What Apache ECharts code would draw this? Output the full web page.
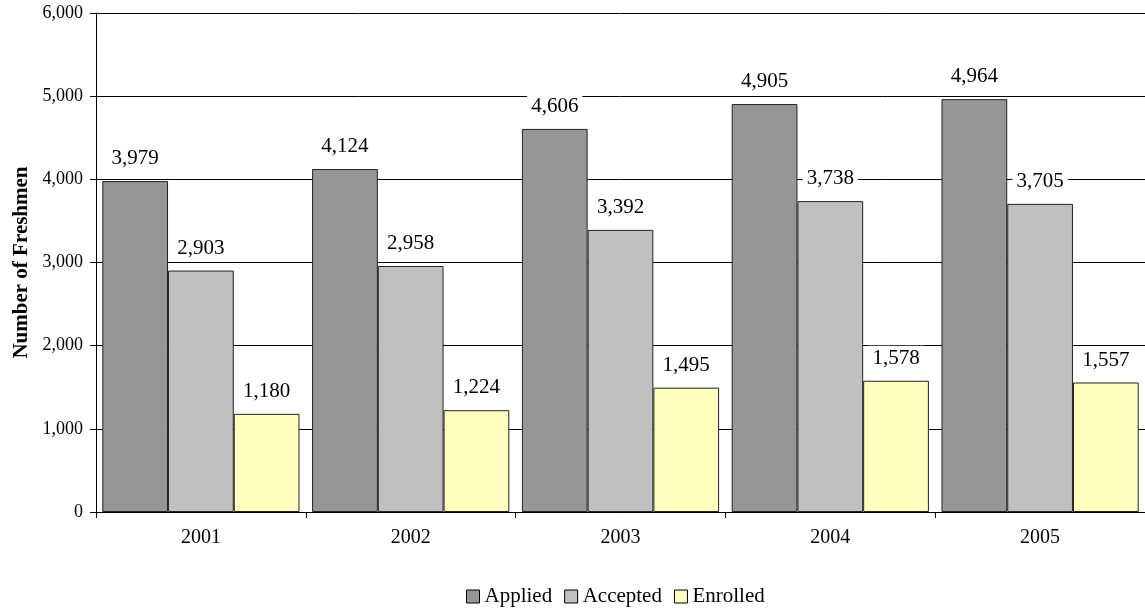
<!DOCTYPE html>
<html><head><meta charset="utf-8">
<script src="https://cdn.jsdelivr.net/npm/echarts@6/dist/echarts.min.js"></script>
<style>html,body{margin:0;padding:0;background:#fff}#c{width:1145px;height:610px}</style>
</head><body><div id="c"></div>
<script>
const years = ['2001','2002','2003','2004','2005'];
const applied = [3979, 4124, 4606, 4905, 4964];
const accepted = [2903, 2958, 3392, 3738, 3705];
const enrolled = [1180, 1224, 1495, 1578, 1557];
const seriesNames = ['Applied','Accepted','Enrolled'];
const colors = ['#969696','#c0c0c0','#ffffc0'];
const font = '"Liberation Serif", "Times New Roman", serif';
const fmt = v => v.toLocaleString('en-US');
const mk = (name, data, color) => ({
  name, type: 'bar', data, barGap: '0%', barCategoryGap: '6%',
  itemStyle: {color, borderColor: '#222', borderWidth: 1},
  label: {show: true, position: 'top', distance: 10, fontFamily: font, fontSize: 21, color: '#000',
    backgroundColor: '#fff', padding: [2, 4],
    formatter: p => fmt(p.value)}
});
const chart = echarts.init(document.getElementById('c'));
chart.setOption({
  animation: false,
  textStyle: {fontFamily: font},
  grid: {left: 96, right: 0, top: 13, bottom: 98, containLabel: false},
  legend: {bottom: 3, left: 466, padding: 0, itemWidth: 13, itemHeight: 13, itemGap: 12,
    textStyle: {fontFamily: font, fontSize: 21, color: '#000', padding: [0,0,0,0]},
    data: seriesNames.map(n => ({name: n, icon: 'rect', itemStyle: {borderColor: '#000', borderWidth: 1}}))},
  xAxis: {type: 'category', data: years,
    axisLine: {lineStyle: {color: '#000', width: 1}},
    axisTick: {show: true, length: 6, lineStyle: {color: '#000'}},
    axisLabel: {fontFamily: font, fontSize: 20, color: '#000', margin: 16}},
  yAxis: {type: 'value', min: 0, max: 6000, interval: 1000,
    name: 'Number of Freshmen', nameLocation: 'middle', nameGap: 64, nameRotate: 90,
    nameTextStyle: {fontFamily: font, fontSize: 21, fontWeight: 'bold', color: '#000'},
    axisLine: {show: true, lineStyle: {color: '#000'}},
    axisTick: {show: true, length: 6, lineStyle: {color: '#000'}},
    axisLabel: {fontFamily: font, fontSize: 18, color: '#000', margin: 13, formatter: v => fmt(v)},
    splitLine: {lineStyle: {color: '#000', width: 1}}},
  series: [mk(seriesNames[0], applied, colors[0]), mk(seriesNames[1], accepted, colors[1]), mk(seriesNames[2], enrolled, colors[2])]
});
</script></body></html>
